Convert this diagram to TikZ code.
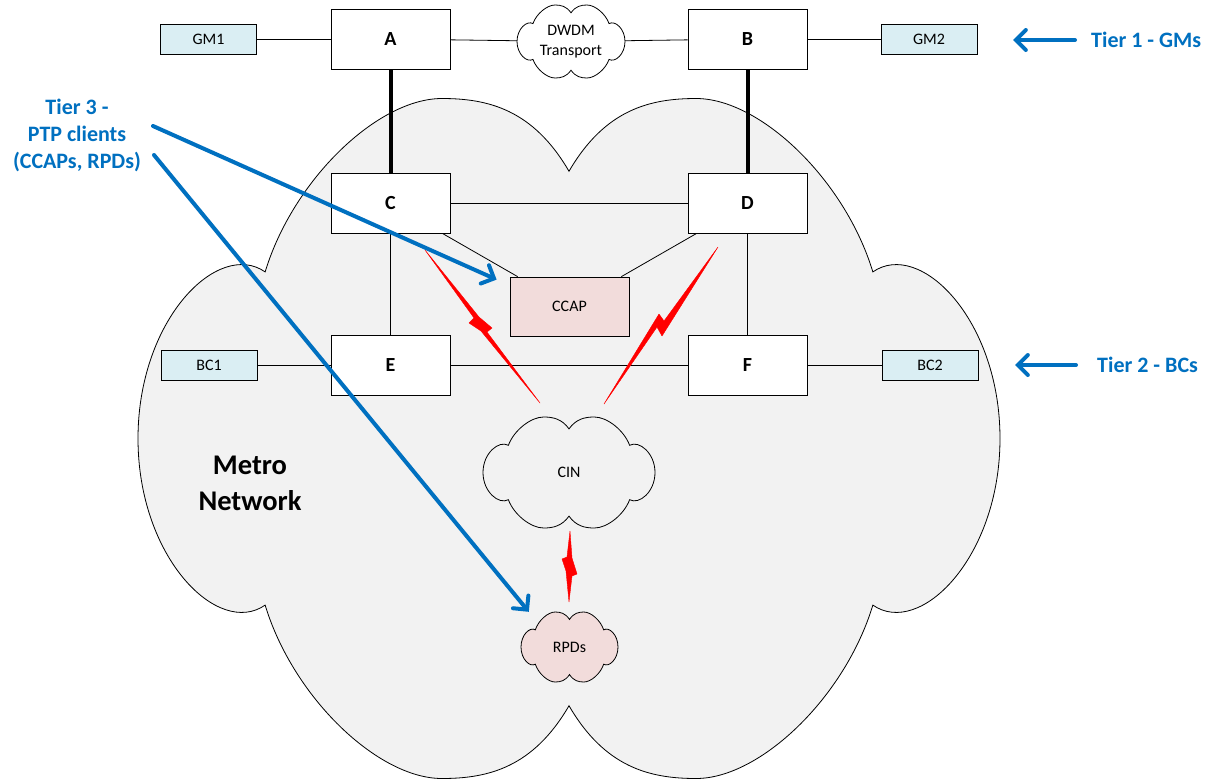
\documentclass[tikz,border=0pt]{standalone}
\usepackage{fontspec}
\setmainfont{Carlito}
\usetikzlibrary{arrows.meta}

\definecolor{tierblue}{HTML}{0070C0}
\definecolor{gmfill}{HTML}{DAEEF3}
\definecolor{pinkfill}{HTML}{F2DCDB}
\definecolor{metrofill}{HTML}{F2F2F2}

% four-lobed cloud outline in unit coordinates (centre at origin, extent +-1)
\newcommand\cloudoutline{(0,-0.786)
  .. controls (0.0835,-0.968) and (0.188,-1) .. (0.295,-1)
  .. controls (0.443,-1) and (0.640,-0.762) .. (0.705,-0.49)
  .. controls (0.814,-0.586) and (1,-0.351) .. (1,0)
  .. controls (1,0.351) and (0.814,0.586) .. (0.705,0.49)
  .. controls (0.640,0.762) and (0.443,1) .. (0.295,1)
  .. controls (0.188,1) and (0.0835,0.968) .. (0,0.786)
  .. controls (-0.0835,0.968) and (-0.188,1) .. (-0.295,1)
  .. controls (-0.443,1) and (-0.640,0.762) .. (-0.705,0.49)
  .. controls (-0.814,0.586) and (-1,0.351) .. (-1,0)
  .. controls (-1,-0.351) and (-0.814,-0.586) .. (-0.705,-0.49)
  .. controls (-0.640,-0.762) and (-0.443,-1) .. (-0.295,-1)
  .. controls (-0.188,-1) and (-0.0835,-0.968) .. (0,-0.786) -- cycle}

\begin{document}
\begin{tikzpicture}[x=1pt,y=-1pt,
  every node/.style={inner sep=0pt},
  bigbox/.style={draw=black, line width=0.8pt, fill=white, minimum width=119pt, minimum height=60pt,
    font=\fontsize{20}{24}\selectfont\bfseries},
  smallbox/.style={draw=black, line width=0.8pt, minimum width=96pt, minimum height=30pt,
    font=\fontsize{16}{19}\selectfont},
  cloudlabel/.style={align=center, font=\fontsize{16}{20}\selectfont},
  cloudline/.style={draw=black, line width=0.8pt},
  link/.style={line width=0.8pt},
  trunk/.style={line width=4pt},
  bolt/.style={fill=red, draw=red, line width=0.4pt, line join=round},
  tierarrow/.style={draw=tierblue, line width=4pt, line cap=round,
    -{Straight Barb[length=10pt,width=20pt,line cap=round]}},
  tiertext/.style={text=tierblue, align=center, font=\fontsize{22}{27}\selectfont\bfseries},
]
\useasboundingbox (0,0) rectangle (1211,780);
\fill[white] (0,0) rectangle (1211,780);

% metro network cloud
\draw[cloudline, fill=metrofill, shift={(569,438.5)}, xscale=431, yscale=340] \cloudoutline;

% small clouds
\draw[cloudline, fill=white, shift={(571,41.5)}, xscale=54, yscale=36.5] \cloudoutline;
\draw[cloudline, fill=metrofill, shift={(569,472.5)}, xscale=86, yscale=55.5] \cloudoutline;
\draw[cloudline, fill=pinkfill, shift={(569.5,647)}, xscale=48.5, yscale=35] \cloudoutline;

\node[cloudlabel, minimum width=108pt, minimum height=73pt] (dwdm) at (571,41.5) {DWDM\\Transport};
\node[cloudlabel, minimum width=172pt, minimum height=111pt] (cin) at (569,472.5) {CIN};
\node[cloudlabel, minimum width=97pt, minimum height=70pt] (rpds) at (569.5,647) {RPDs};

% tier 1 grandmasters and top switches
\node[smallbox, fill=gmfill] (gm1) at (208.5,39) {GM1};
\node[bigbox] (A) at (390.5,39) {A};
\node[bigbox] (B) at (747.5,39) {B};
\node[smallbox, fill=gmfill] (gm2) at (929,39) {GM2};

% metro switches
\node[bigbox] (C) at (390.5,203) {C};
\node[bigbox] (D) at (747.5,203) {D};
\node[bigbox] (E) at (390.5,365) {E};
\node[bigbox] (F) at (747.5,365) {F};
\node[smallbox, fill=pinkfill, minimum width=119pt, minimum height=59pt] (ccap) at (569.5,306.5) {CCAP};

% boundary clocks
\node[smallbox, fill=gmfill] (bc1) at (209,365) {BC1};
\node[smallbox, fill=gmfill] (bc2) at (930,365) {BC2};

% links
\draw[link] (gm1) -- (A);
\draw[link] (A) -- (dwdm);
\draw[link] (dwdm) -- (B);
\draw[link] (B) -- (gm2);
\draw[trunk] (A) -- (C);
\draw[trunk] (B) -- (D);
\draw[link] (C) -- (D);
\draw[link] (C) -- (E);
\draw[link] (D) -- (F);
\draw[link] (E) -- (F);
\draw[link] (bc1) -- (E);
\draw[link] (F) -- (bc2);
\draw[link] ([xshift=-8pt]C.south east) -- ([xshift=8pt]ccap.north west);
\draw[link] ([xshift=9pt]D.south west) -- ([xshift=-8pt]ccap.north east);

% wireless hops
\filldraw[bolt] (425,250) -- (479,317) -- (492,328) -- (487,332) -- (540,403)
  -- (481,331) -- (469,323) -- (474,318) -- cycle;
\filldraw[bolt] (718,247) -- (662,336) -- (657,327) -- (604,404)
  -- (659,314) -- (664,321) -- cycle;
\filldraw[bolt] (570,531) -- (572,558) -- (577,574) -- (572,576) -- (569,602)
  -- (566,571) -- (562,559) -- (567,557) -- cycle;

% labels
\node[font=\fontsize{28.5}{36}\selectfont\bfseries, align=center] (metro) at (250,483) {Metro\\Network};

\node[tiertext] (tier3) at (77,135) {Tier 3 -\\PTP clients\\(CCAPs, RPDs)};
\node[tiertext, anchor=west] (tier1) at (1091,40) {Tier 1 - GMs};
\node[tiertext, anchor=west] (tier2) at (1097,365) {Tier 2 - BCs};

% tier arrows
\coordinate (t1s) at (1075,40);
\coordinate (t1e) at (1013,40);
\coordinate (t2s) at (1076,365);
\coordinate (t2e) at (1015,365);
\coordinate (t3a) at (153,126);
\coordinate (t3b) at (154,155);
\draw[tierarrow] (t1s) -- (t1e);
\draw[tierarrow] (t2s) -- (t2e);
\draw[tierarrow] (t3a) -- ([xshift=-13pt,yshift=-3pt]ccap.north west);
\draw[tierarrow] (t3b) -- ([xshift=8pt]rpds.north west);
\end{tikzpicture}
\end{document}
